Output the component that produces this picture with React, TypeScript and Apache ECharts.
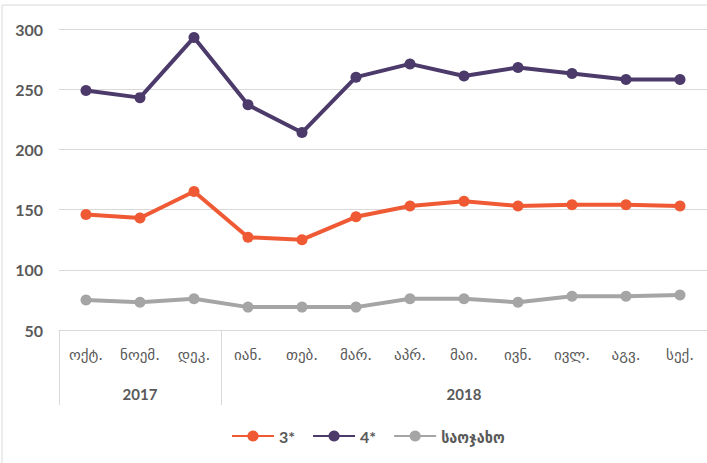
import React, { useEffect, useRef } from "react";
import * as echarts from "echarts";

const months = ["ოქტ.", "ნოემ.", "დეკ.", "იან.", "თებ.", "მარ.", "აპრ.", "მაი.", "ივნ.", "ივლ.", "აგვ.", "სექ."];
const years = ["", "2017", "", "", "", "", "", "2018", "", "", "", ""];
const yearStarts = [0, 3];
const yTicks = { min: 50, max: 300, interval: 50 };

const seriesNames = ["3*", "4*", "საოჯახო"];
const values3 = [146, 143, 165, 127, 125, 144, 153, 157, 153, 154, 154, 153];
const values4 = [249, 243, 293, 237, 214, 260, 271, 261, 268, 263, 258, 258];
const valuesHome = [75, 73, 76, 69, 69, 69, 76, 76, 73, 78, 78, 79];
const colors = ["#EF5A35", "#4B3A6A", "#A5A5A5"];

const geo = "'DejaVu Sans', sans-serif";
const lat = "Lato, 'DejaVu Sans Condensed', 'DejaVu Sans', sans-serif";

export default function App() {
  const ref = useRef<HTMLDivElement>(null);
  useEffect(() => {
    if (!ref.current) return;
    const chart = echarts.init(ref.current, null, { renderer: "svg" });
    const data = [values3, values4, valuesHome];
    chart.setOption({
      animation: false,
      backgroundColor: "#ffffff",
      graphic: [
        {
          type: "rect",
          shape: { x: 2, y: 5, width: 740, height: 480 },
          style: { fill: "none", stroke: "#D9D9D9", lineWidth: 1 },
          silent: true,
        },
      ],
      grid: { left: 59, right: -3, top: 29, bottom: 133, containLabel: false },
      legend: {
        left: 231,
        top: 428,
        padding: 0,
        itemWidth: 42,
        itemHeight: 14,
        itemGap: 17,
        textStyle: { color: "#595959", fontSize: 16, fontWeight: "bold", fontFamily: lat },
        data: seriesNames,
      },
      xAxis: [
        {
          type: "category",
          data: months,
          boundaryGap: true,
          axisLine: { show: true, lineStyle: { color: "#D9D9D9", width: 1 } },
          axisTick: {
            show: true,
            length: 75,
            interval: (i: number) => yearStarts.indexOf(i) >= 0,
            lineStyle: { color: "#D9D9D9", width: 1 },
          },
          axisLabel: {
            interval: 0,
            margin: 17,
            color: "#595959",
            fontSize: 15,
            fontFamily: geo,
          },
        },
        {
          type: "category",
          data: years,
          position: "bottom",
          boundaryGap: true,
          axisLine: { show: false },
          axisTick: { show: false },
          axisLabel: {
            interval: 0,
            margin: 56,
            color: "#595959",
            fontSize: 15,
            fontWeight: "bold",
            fontFamily: lat,
          },
        },
      ],
      yAxis: {
        type: "value",
        min: yTicks.min,
        max: yTicks.max,
        interval: yTicks.interval,
        axisLine: { show: false },
        axisTick: { show: false },
        splitLine: { lineStyle: { color: "#D9D9D9", width: 1.2 } },
        axisLabel: { margin: 16, color: "#595959", fontSize: 16, fontWeight: "bold", fontFamily: lat },
      },
      series: seriesNames.map((name, i) => ({
        name,
        type: "line",
        xAxisIndex: 0,
        data: data[i],
        symbol: "circle",
        symbolSize: 11,
        lineStyle: { color: colors[i], width: 4 },
        itemStyle: { color: colors[i] },
      })),
    });
    return () => chart.dispose();
  }, []);
  return <div ref={ref} style={{ position: "fixed", left: 0, top: 0, width: 707, height: 463 }} />;
}
